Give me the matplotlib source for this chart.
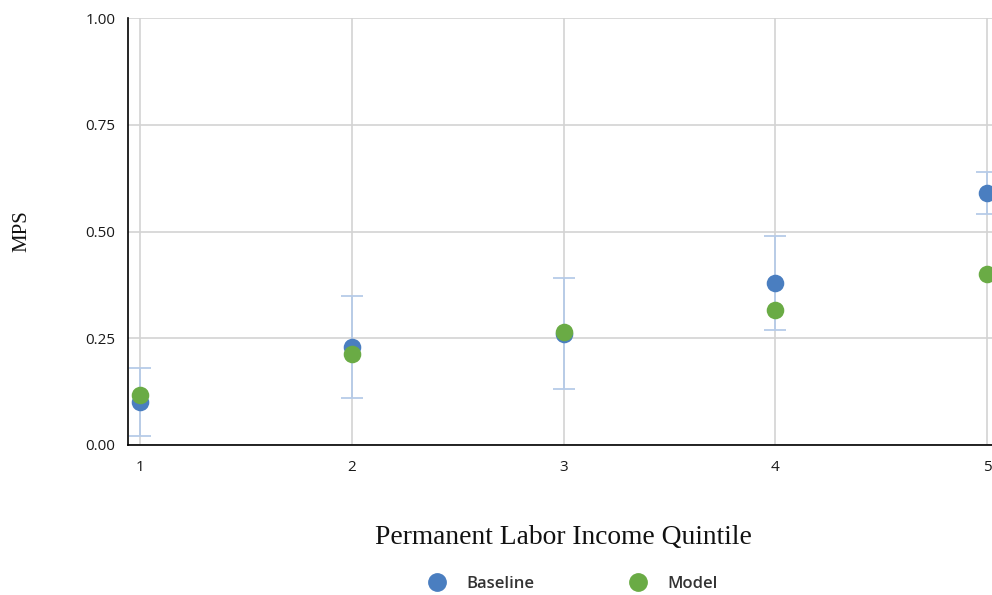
import matplotlib
matplotlib.use("Agg")
import matplotlib.pyplot as plt
from matplotlib.lines import Line2D

quintiles = [1, 2, 3, 4, 5]
baseline = [0.10, 0.23, 0.26, 0.38, 0.59]
baseline_lo = [0.02, 0.11, 0.13, 0.27, 0.54]
baseline_hi = [0.18, 0.35, 0.39, 0.49, 0.64]
model = [0.118, 0.213, 0.265, 0.317, 0.40]
yticks = [0.0, 0.25, 0.5, 0.75, 1.0]
ytick_labels = ["0.00", "0.25", "0.50", "0.75", "1.00"]

BLUE = "#4a7ec0"
GREEN = "#6aab45"
ERR = "#b6cbe8"
GRID = "#d3d3d3"

fig = plt.figure(figsize=(9.92, 5.95), dpi=100)
W, H = 992, 595
left, right, top, bottom = 128, 992, 18, 445
ax = fig.add_axes([left / W, 1 - bottom / H, (right - left) / W, (bottom - top) / H])

ppu = (987 - 140) / 4.0
ax.set_xlim(1 - (140 - left) / ppu, 5 + (right - 987) / ppu)
ax.set_ylim(0, 1)

yerr = [[b - lo for b, lo in zip(baseline, baseline_lo)],
        [hi - b for b, hi in zip(baseline, baseline_hi)]]
ax.errorbar(quintiles, baseline, yerr=yerr, fmt="none", ecolor=ERR,
            elinewidth=1.3, capsize=8, capthick=1.3, zorder=3, clip_on=False)
ax.scatter(quintiles, baseline, s=160, color=BLUE, zorder=4, clip_on=False, linewidths=0)
ax.scatter(quintiles, model, s=160, color=GREEN, zorder=5, clip_on=False, linewidths=0)

ax.set_xticks(quintiles)
ax.set_xticklabels([str(q) for q in quintiles])
ax.set_yticks(yticks)
ax.set_yticklabels(ytick_labels)
ax.tick_params(length=0, labelsize=11, colors="#1a1a1a", pad=9)
for lab in ax.get_xticklabels() + ax.get_yticklabels():
    lab.set_fontfamily("Open Sans")
ax.tick_params(axis="x", pad=11)

ax.grid(True, color=GRID, linewidth=1.2, zorder=0)
ax.set_axisbelow(True)
for s in ["top", "right"]:
    ax.spines[s].set_visible(False)
ax.spines["left"].set_color("black")
ax.spines["bottom"].set_color("black")
ax.spines["left"].set_linewidth(1.2)
ax.spines["bottom"].set_linewidth(1.2)

fig.text(22 / W, 1 - 231 / H, "MPS", rotation=90, ha="center", va="center",
         fontsize=15, family="Liberation Serif", color="#111111")
fig.text(563 / W, 1 - 537 / H, "Permanent Labor Income Quintile", ha="center", va="center",
         fontsize=19.8, family="Liberation Serif", color="#111111")

handles = [Line2D([], [], marker="o", linestyle="none", markersize=12.5, color=BLUE),
           Line2D([], [], marker="o", linestyle="none", markersize=12.5, color=GREEN)]
leg = fig.legend(handles, ["Baseline", "Model"], loc="center", bbox_to_anchor=(569 / W, 1 - 584 / H),
                 ncol=2, frameon=False, columnspacing=5.2, handletextpad=0.75,
                 prop={"family": "Open Sans", "weight": "semibold", "size": 12})
for t in leg.get_texts():
    t.set_color("#333333")

fig.savefig("out.png", dpi=100)
